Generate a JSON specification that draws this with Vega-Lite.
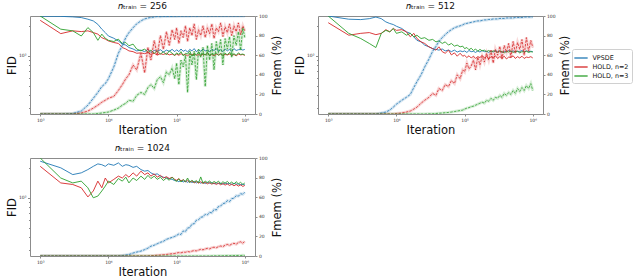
{
  "$schema": "https://vega.github.io/schema/vega-lite/v6.json",
  "background": "white",
  "padding": {"left": 5, "top": 1, "right": 2, "bottom": 2},
  "config": {
    "font": "DejaVu Sans",
    "view": {"stroke": "#8c8c8c", "strokeWidth": 1},
    "axis": {"domain": false, "grid": false, "tickColor": "#8c8c8c", "tickSize": 2, "labelFontSize": 4.5, "labelColor": "#333", "labelPadding": 1.5, "titleFontSize": 11.5, "titleFontWeight": "normal", "titleColor": "#111"},
    "title": {"fontSize": 9, "fontWeight": "normal", "color": "#111", "offset": 2, "frame": "group"}
  },
  "data": {"values": [
{"n":"256","s":"VPSDE","x":1000,"f":250,"m":0},{"n":"256","s":"VPSDE","x":2000,"f":249,"m":0},{"n":"256","s":"VPSDE","x":3000,"f":246,"m":0.5},{"n":"256","s":"VPSDE","x":4000,"f":242,"m":3},{"n":"256","s":"VPSDE","x":5000,"f":233,"m":9},{"n":"256","s":"VPSDE","x":6000,"f":224,"m":16},{"n":"256","s":"VPSDE","x":7000,"f":207,"m":22},{"n":"256","s":"VPSDE","x":8000,"f":185,"m":28},{"n":"256","s":"VPSDE","x":9000,"f":171,"m":31},
{"n":"256","s":"VPSDE","x":10000,"f":158,"m":36},{"n":"256","s":"VPSDE","x":12000,"f":150,"m":48},{"n":"256","s":"VPSDE","x":14000,"f":141,"m":62},{"n":"256","s":"VPSDE","x":16000,"f":131,"m":70},{"n":"256","s":"VPSDE","x":18000,"f":128,"m":78},{"n":"256","s":"VPSDE","x":20000,"f":121,"m":83},{"n":"256","s":"VPSDE","x":23000,"f":117,"m":88},{"n":"256","s":"VPSDE","x":26000,"f":112,"m":92},{"n":"256","s":"VPSDE","x":30000,"f":114,"m":95},{"n":"256","s":"VPSDE","x":34000,"f":110,"m":97},
{"n":"256","s":"VPSDE","x":38000,"f":116,"m":98},{"n":"256","s":"VPSDE","x":42000,"f":108,"m":98.5},{"n":"256","s":"VPSDE","x":47000,"f":113,"m":99},{"n":"256","s":"VPSDE","x":52000,"f":111,"m":99.5},{"n":"256","s":"VPSDE","x":58000,"f":115,"m":99.3},{"n":"256","s":"VPSDE","x":64000,"f":109,"m":99.6},{"n":"256","s":"VPSDE","x":71000,"f":114,"m":99.4},{"n":"256","s":"VPSDE","x":78000,"f":111,"m":99.7},{"n":"256","s":"VPSDE","x":86000,"f":116,"m":99.5},{"n":"256","s":"VPSDE","x":94000,"f":110,"m":99.8},
{"n":"256","s":"VPSDE","x":100000,"f":115,"m":99.6},{"n":"256","s":"VPSDE","x":108000,"f":110,"m":99.8},{"n":"256","s":"VPSDE","x":116000,"f":117,"m":99.7},{"n":"256","s":"VPSDE","x":125000,"f":111,"m":99.9},{"n":"256","s":"VPSDE","x":135000,"f":114,"m":99.8},{"n":"256","s":"VPSDE","x":145000,"f":109,"m":99.9},{"n":"256","s":"VPSDE","x":156000,"f":116,"m":99.7},{"n":"256","s":"VPSDE","x":168000,"f":112,"m":99.9},{"n":"256","s":"VPSDE","x":181000,"f":118,"m":100},{"n":"256","s":"VPSDE","x":195000,"f":110,"m":99.8},
{"n":"256","s":"VPSDE","x":210000,"f":115,"m":99.9},{"n":"256","s":"VPSDE","x":226000,"f":111,"m":100},{"n":"256","s":"VPSDE","x":244000,"f":117,"m":99.9},{"n":"256","s":"VPSDE","x":263000,"f":112,"m":100},{"n":"256","s":"VPSDE","x":283000,"f":114,"m":99.8},{"n":"256","s":"VPSDE","x":305000,"f":110,"m":100},{"n":"256","s":"VPSDE","x":329000,"f":116,"m":99.9},{"n":"256","s":"VPSDE","x":354000,"f":113,"m":100},{"n":"256","s":"VPSDE","x":382000,"f":118,"m":100},{"n":"256","s":"VPSDE","x":411000,"f":111,"m":99.9},
{"n":"256","s":"VPSDE","x":443000,"f":115,"m":100},{"n":"256","s":"VPSDE","x":478000,"f":110,"m":100},{"n":"256","s":"VPSDE","x":515000,"f":117,"m":99.9},{"n":"256","s":"VPSDE","x":555000,"f":112,"m":100},{"n":"256","s":"VPSDE","x":598000,"f":116,"m":100},{"n":"256","s":"VPSDE","x":644000,"f":111,"m":100},{"n":"256","s":"VPSDE","x":694000,"f":118,"m":99.9},{"n":"256","s":"VPSDE","x":748000,"f":113,"m":100},{"n":"256","s":"VPSDE","x":806000,"f":115,"m":100},{"n":"256","s":"VPSDE","x":869000,"f":117,"m":100},{"n":"256","s":"VPSDE","x":936000,"f":114,"m":100},{"n":"256","s":"VPSDE","x":1000000,"f":116,"m":100},
{"n":"256","s":"HOLD, n=2","x":1000,"f":227,"m":0},{"n":"256","s":"HOLD, n=2","x":2000,"f":167,"m":0},{"n":"256","s":"HOLD, n=2","x":3000,"f":178,"m":0},{"n":"256","s":"HOLD, n=2","x":4000,"f":175,"m":1},{"n":"256","s":"HOLD, n=2","x":5000,"f":178,"m":3},{"n":"256","s":"HOLD, n=2","x":6000,"f":171,"m":6},{"n":"256","s":"HOLD, n=2","x":7000,"f":165,"m":9},{"n":"256","s":"HOLD, n=2","x":8000,"f":152,"m":12},{"n":"256","s":"HOLD, n=2","x":9000,"f":147,"m":14},
{"n":"256","s":"HOLD, n=2","x":10000,"f":141,"m":16},{"n":"256","s":"HOLD, n=2","x":12000,"f":136,"m":18},{"n":"256","s":"HOLD, n=2","x":14000,"f":133,"m":24},{"n":"256","s":"HOLD, n=2","x":16000,"f":121,"m":30},{"n":"256","s":"HOLD, n=2","x":18000,"f":117,"m":36},{"n":"256","s":"HOLD, n=2","x":20000,"f":112,"m":40},{"n":"256","s":"HOLD, n=2","x":23000,"f":110,"m":50},{"n":"256","s":"HOLD, n=2","x":26000,"f":106,"m":45},{"n":"256","s":"HOLD, n=2","x":30000,"f":107,"m":62},{"n":"256","s":"HOLD, n=2","x":34000,"f":105,"m":42},
{"n":"256","s":"HOLD, n=2","x":38000,"f":108,"m":68},{"n":"256","s":"HOLD, n=2","x":42000,"f":103,"m":55},{"n":"256","s":"HOLD, n=2","x":47000,"f":106,"m":75},{"n":"256","s":"HOLD, n=2","x":52000,"f":102,"m":60},{"n":"256","s":"HOLD, n=2","x":58000,"f":105,"m":80},{"n":"256","s":"HOLD, n=2","x":64000,"f":103,"m":66},{"n":"256","s":"HOLD, n=2","x":71000,"f":106,"m":84},{"n":"256","s":"HOLD, n=2","x":78000,"f":102,"m":70},{"n":"256","s":"HOLD, n=2","x":86000,"f":104,"m":86},{"n":"256","s":"HOLD, n=2","x":94000,"f":101,"m":76},
{"n":"256","s":"HOLD, n=2","x":100000,"f":104,"m":88},{"n":"256","s":"HOLD, n=2","x":108000,"f":101,"m":72},{"n":"256","s":"HOLD, n=2","x":116000,"f":105,"m":85},{"n":"256","s":"HOLD, n=2","x":125000,"f":102,"m":78},{"n":"256","s":"HOLD, n=2","x":135000,"f":103,"m":90},{"n":"256","s":"HOLD, n=2","x":145000,"f":100,"m":74},{"n":"256","s":"HOLD, n=2","x":156000,"f":104,"m":88},{"n":"256","s":"HOLD, n=2","x":168000,"f":102,"m":80},{"n":"256","s":"HOLD, n=2","x":181000,"f":105,"m":92},{"n":"256","s":"HOLD, n=2","x":195000,"f":101,"m":76},
{"n":"256","s":"HOLD, n=2","x":210000,"f":103,"m":86},{"n":"256","s":"HOLD, n=2","x":226000,"f":100,"m":80},{"n":"256","s":"HOLD, n=2","x":244000,"f":104,"m":90},{"n":"256","s":"HOLD, n=2","x":263000,"f":102,"m":78},{"n":"256","s":"HOLD, n=2","x":283000,"f":105,"m":88},{"n":"256","s":"HOLD, n=2","x":305000,"f":101,"m":82},{"n":"256","s":"HOLD, n=2","x":329000,"f":103,"m":92},{"n":"256","s":"HOLD, n=2","x":354000,"f":100,"m":77},{"n":"256","s":"HOLD, n=2","x":382000,"f":104,"m":88},{"n":"256","s":"HOLD, n=2","x":411000,"f":102,"m":84},
{"n":"256","s":"HOLD, n=2","x":443000,"f":105,"m":93},{"n":"256","s":"HOLD, n=2","x":478000,"f":101,"m":79},{"n":"256","s":"HOLD, n=2","x":515000,"f":103,"m":89},{"n":"256","s":"HOLD, n=2","x":555000,"f":102,"m":83},{"n":"256","s":"HOLD, n=2","x":598000,"f":104,"m":92},{"n":"256","s":"HOLD, n=2","x":644000,"f":101,"m":80},{"n":"256","s":"HOLD, n=2","x":694000,"f":103,"m":90},{"n":"256","s":"HOLD, n=2","x":748000,"f":100,"m":84},{"n":"256","s":"HOLD, n=2","x":806000,"f":104,"m":93},{"n":"256","s":"HOLD, n=2","x":869000,"f":102,"m":81},{"n":"256","s":"HOLD, n=2","x":936000,"f":103,"m":90},{"n":"256","s":"HOLD, n=2","x":1000000,"f":101,"m":85},
{"n":"256","s":"HOLD, n=3","x":1000,"f":251,"m":0},{"n":"256","s":"HOLD, n=3","x":2000,"f":185,"m":0},{"n":"256","s":"HOLD, n=3","x":3000,"f":178,"m":0},{"n":"256","s":"HOLD, n=3","x":4000,"f":158,"m":0},{"n":"256","s":"HOLD, n=3","x":5000,"f":192,"m":0},{"n":"256","s":"HOLD, n=3","x":6000,"f":171,"m":0},{"n":"256","s":"HOLD, n=3","x":7000,"f":143,"m":0.5},{"n":"256","s":"HOLD, n=3","x":8000,"f":165,"m":1},{"n":"256","s":"HOLD, n=3","x":9000,"f":150,"m":1.5},
{"n":"256","s":"HOLD, n=3","x":10000,"f":143,"m":2},{"n":"256","s":"HOLD, n=3","x":12000,"f":139,"m":4},{"n":"256","s":"HOLD, n=3","x":14000,"f":147,"m":6},{"n":"256","s":"HOLD, n=3","x":16000,"f":133,"m":9},{"n":"256","s":"HOLD, n=3","x":18000,"f":136,"m":11},{"n":"256","s":"HOLD, n=3","x":20000,"f":126,"m":14},{"n":"256","s":"HOLD, n=3","x":23000,"f":131,"m":13},{"n":"256","s":"HOLD, n=3","x":26000,"f":117,"m":19},{"n":"256","s":"HOLD, n=3","x":30000,"f":112,"m":22},{"n":"256","s":"HOLD, n=3","x":34000,"f":117,"m":20},
{"n":"256","s":"HOLD, n=3","x":38000,"f":108,"m":27},{"n":"256","s":"HOLD, n=3","x":42000,"f":114,"m":30},{"n":"256","s":"HOLD, n=3","x":47000,"f":106,"m":26},{"n":"256","s":"HOLD, n=3","x":52000,"f":112,"m":35},{"n":"256","s":"HOLD, n=3","x":58000,"f":104,"m":38},{"n":"256","s":"HOLD, n=3","x":64000,"f":110,"m":32},{"n":"256","s":"HOLD, n=3","x":71000,"f":102,"m":43},{"n":"256","s":"HOLD, n=3","x":78000,"f":112,"m":40},{"n":"256","s":"HOLD, n=3","x":86000,"f":106,"m":47},{"n":"256","s":"HOLD, n=3","x":94000,"f":101,"m":36},
{"n":"256","s":"HOLD, n=3","x":100000,"f":107,"m":52},{"n":"256","s":"HOLD, n=3","x":108000,"f":103,"m":30},{"n":"256","s":"HOLD, n=3","x":116000,"f":110,"m":55},{"n":"256","s":"HOLD, n=3","x":125000,"f":100,"m":48},{"n":"256","s":"HOLD, n=3","x":135000,"f":106,"m":60},{"n":"256","s":"HOLD, n=3","x":145000,"f":104,"m":22},{"n":"256","s":"HOLD, n=3","x":156000,"f":112,"m":62},{"n":"256","s":"HOLD, n=3","x":168000,"f":99,"m":50},{"n":"256","s":"HOLD, n=3","x":181000,"f":105,"m":64},{"n":"256","s":"HOLD, n=3","x":195000,"f":103,"m":35},
{"n":"256","s":"HOLD, n=3","x":210000,"f":108,"m":66},{"n":"256","s":"HOLD, n=3","x":226000,"f":101,"m":58},{"n":"256","s":"HOLD, n=3","x":244000,"f":106,"m":68},{"n":"256","s":"HOLD, n=3","x":263000,"f":102,"m":28},{"n":"256","s":"HOLD, n=3","x":283000,"f":109,"m":70},{"n":"256","s":"HOLD, n=3","x":305000,"f":100,"m":55},{"n":"256","s":"HOLD, n=3","x":329000,"f":105,"m":72},{"n":"256","s":"HOLD, n=3","x":354000,"f":103,"m":45},{"n":"256","s":"HOLD, n=3","x":382000,"f":107,"m":74},{"n":"256","s":"HOLD, n=3","x":411000,"f":101,"m":62},
{"n":"256","s":"HOLD, n=3","x":443000,"f":104,"m":76},{"n":"256","s":"HOLD, n=3","x":478000,"f":99,"m":50},{"n":"256","s":"HOLD, n=3","x":515000,"f":106,"m":77},{"n":"256","s":"HOLD, n=3","x":555000,"f":102,"m":66},{"n":"256","s":"HOLD, n=3","x":598000,"f":108,"m":79},{"n":"256","s":"HOLD, n=3","x":644000,"f":100,"m":58},{"n":"256","s":"HOLD, n=3","x":694000,"f":105,"m":80},{"n":"256","s":"HOLD, n=3","x":748000,"f":101,"m":70},{"n":"256","s":"HOLD, n=3","x":806000,"f":107,"m":84},{"n":"256","s":"HOLD, n=3","x":869000,"f":103,"m":65},{"n":"256","s":"HOLD, n=3","x":936000,"f":104,"m":88},{"n":"256","s":"HOLD, n=3","x":1000000,"f":102,"m":78},

{"n":"512","s":"VPSDE","x":1000,"f":251,"m":0},{"n":"512","s":"VPSDE","x":2000,"f":233,"m":0},{"n":"512","s":"VPSDE","x":3000,"f":231,"m":0},{"n":"512","s":"VPSDE","x":4000,"f":236,"m":0},{"n":"512","s":"VPSDE","x":5000,"f":245,"m":0},{"n":"512","s":"VPSDE","x":6000,"f":236,"m":1},{"n":"512","s":"VPSDE","x":7000,"f":219,"m":2},{"n":"512","s":"VPSDE","x":8000,"f":211,"m":4},{"n":"512","s":"VPSDE","x":9000,"f":206,"m":7},
{"n":"512","s":"VPSDE","x":10000,"f":198,"m":10},{"n":"512","s":"VPSDE","x":12000,"f":188,"m":14},{"n":"512","s":"VPSDE","x":14000,"f":174,"m":17},{"n":"512","s":"VPSDE","x":16000,"f":168,"m":20},{"n":"512","s":"VPSDE","x":18000,"f":155,"m":27},{"n":"512","s":"VPSDE","x":20000,"f":143,"m":33},{"n":"512","s":"VPSDE","x":23000,"f":138,"m":40},{"n":"512","s":"VPSDE","x":26000,"f":128,"m":48},{"n":"512","s":"VPSDE","x":30000,"f":123,"m":56},{"n":"512","s":"VPSDE","x":34000,"f":118,"m":64},
{"n":"512","s":"VPSDE","x":38000,"f":116,"m":69},{"n":"512","s":"VPSDE","x":42000,"f":114,"m":74},{"n":"512","s":"VPSDE","x":47000,"f":117,"m":78},{"n":"512","s":"VPSDE","x":52000,"f":112,"m":81},{"n":"512","s":"VPSDE","x":58000,"f":114,"m":84},{"n":"512","s":"VPSDE","x":64000,"f":110,"m":86},{"n":"512","s":"VPSDE","x":71000,"f":114,"m":88},{"n":"512","s":"VPSDE","x":78000,"f":109,"m":89},{"n":"512","s":"VPSDE","x":86000,"f":112,"m":90},{"n":"512","s":"VPSDE","x":94000,"f":110,"m":91},
{"n":"512","s":"VPSDE","x":100000,"f":112,"m":92},{"n":"512","s":"VPSDE","x":108000,"f":108,"m":92.5},{"n":"512","s":"VPSDE","x":116000,"f":113,"m":93},{"n":"512","s":"VPSDE","x":125000,"f":110,"m":93.5},{"n":"512","s":"VPSDE","x":135000,"f":111,"m":94},{"n":"512","s":"VPSDE","x":145000,"f":108,"m":94.5},{"n":"512","s":"VPSDE","x":156000,"f":112,"m":95},{"n":"512","s":"VPSDE","x":168000,"f":109,"m":95},{"n":"512","s":"VPSDE","x":181000,"f":113,"m":95.5},{"n":"512","s":"VPSDE","x":195000,"f":110,"m":96},
{"n":"512","s":"VPSDE","x":210000,"f":111,"m":96},{"n":"512","s":"VPSDE","x":226000,"f":108,"m":96.5},{"n":"512","s":"VPSDE","x":244000,"f":112,"m":96.5},{"n":"512","s":"VPSDE","x":263000,"f":109,"m":97},{"n":"512","s":"VPSDE","x":283000,"f":113,"m":97},{"n":"512","s":"VPSDE","x":305000,"f":110,"m":97},{"n":"512","s":"VPSDE","x":329000,"f":112,"m":97.5},{"n":"512","s":"VPSDE","x":354000,"f":108,"m":97.5},{"n":"512","s":"VPSDE","x":382000,"f":111,"m":97.5},{"n":"512","s":"VPSDE","x":411000,"f":109,"m":98},
{"n":"512","s":"VPSDE","x":443000,"f":113,"m":98},{"n":"512","s":"VPSDE","x":478000,"f":110,"m":98},{"n":"512","s":"VPSDE","x":515000,"f":112,"m":98},{"n":"512","s":"VPSDE","x":555000,"f":109,"m":98.5},{"n":"512","s":"VPSDE","x":598000,"f":111,"m":98.5},{"n":"512","s":"VPSDE","x":644000,"f":110,"m":98.5},{"n":"512","s":"VPSDE","x":694000,"f":113,"m":98.5},{"n":"512","s":"VPSDE","x":748000,"f":109,"m":99},{"n":"512","s":"VPSDE","x":806000,"f":112,"m":99},{"n":"512","s":"VPSDE","x":869000,"f":110,"m":99},{"n":"512","s":"VPSDE","x":936000,"f":111,"m":99},{"n":"512","s":"VPSDE","x":1000000,"f":110,"m":99},
{"n":"512","s":"HOLD, n=2","x":1000,"f":215,"m":0},{"n":"512","s":"HOLD, n=2","x":2000,"f":161,"m":0},{"n":"512","s":"HOLD, n=2","x":3000,"f":168,"m":0},{"n":"512","s":"HOLD, n=2","x":4000,"f":171,"m":0},{"n":"512","s":"HOLD, n=2","x":5000,"f":163,"m":0},{"n":"512","s":"HOLD, n=2","x":6000,"f":168,"m":0},{"n":"512","s":"HOLD, n=2","x":7000,"f":183,"m":0},{"n":"512","s":"HOLD, n=2","x":8000,"f":174,"m":0},{"n":"512","s":"HOLD, n=2","x":9000,"f":188,"m":0},
{"n":"512","s":"HOLD, n=2","x":10000,"f":180,"m":0.5},{"n":"512","s":"HOLD, n=2","x":12000,"f":183,"m":1},{"n":"512","s":"HOLD, n=2","x":14000,"f":174,"m":2},{"n":"512","s":"HOLD, n=2","x":16000,"f":155,"m":3},{"n":"512","s":"HOLD, n=2","x":18000,"f":168,"m":5},{"n":"512","s":"HOLD, n=2","x":20000,"f":149,"m":7},{"n":"512","s":"HOLD, n=2","x":23000,"f":138,"m":11},{"n":"512","s":"HOLD, n=2","x":26000,"f":133,"m":14},{"n":"512","s":"HOLD, n=2","x":30000,"f":123,"m":17},{"n":"512","s":"HOLD, n=2","x":34000,"f":118,"m":21},
{"n":"512","s":"HOLD, n=2","x":38000,"f":114,"m":19},{"n":"512","s":"HOLD, n=2","x":42000,"f":123,"m":26},{"n":"512","s":"HOLD, n=2","x":47000,"f":110,"m":24},{"n":"512","s":"HOLD, n=2","x":52000,"f":106,"m":30},{"n":"512","s":"HOLD, n=2","x":58000,"f":114,"m":28},{"n":"512","s":"HOLD, n=2","x":64000,"f":102,"m":34},{"n":"512","s":"HOLD, n=2","x":71000,"f":107,"m":31},{"n":"512","s":"HOLD, n=2","x":78000,"f":99,"m":40},{"n":"512","s":"HOLD, n=2","x":86000,"f":106,"m":36},{"n":"512","s":"HOLD, n=2","x":94000,"f":99,"m":45},
{"n":"512","s":"HOLD, n=2","x":100000,"f":101,"m":43},{"n":"512","s":"HOLD, n=2","x":108000,"f":96,"m":52},{"n":"512","s":"HOLD, n=2","x":116000,"f":100,"m":46},{"n":"512","s":"HOLD, n=2","x":125000,"f":95,"m":49},{"n":"512","s":"HOLD, n=2","x":135000,"f":99,"m":55},{"n":"512","s":"HOLD, n=2","x":145000,"f":94,"m":45},{"n":"512","s":"HOLD, n=2","x":156000,"f":98,"m":58},{"n":"512","s":"HOLD, n=2","x":168000,"f":96,"m":50},{"n":"512","s":"HOLD, n=2","x":181000,"f":101,"m":59},{"n":"512","s":"HOLD, n=2","x":195000,"f":95,"m":53},
{"n":"512","s":"HOLD, n=2","x":210000,"f":99,"m":62},{"n":"512","s":"HOLD, n=2","x":226000,"f":93,"m":55},{"n":"512","s":"HOLD, n=2","x":244000,"f":98,"m":65},{"n":"512","s":"HOLD, n=2","x":263000,"f":96,"m":52},{"n":"512","s":"HOLD, n=2","x":283000,"f":100,"m":66},{"n":"512","s":"HOLD, n=2","x":305000,"f":94,"m":60},{"n":"512","s":"HOLD, n=2","x":329000,"f":98,"m":69},{"n":"512","s":"HOLD, n=2","x":354000,"f":95,"m":56},{"n":"512","s":"HOLD, n=2","x":382000,"f":99,"m":70},{"n":"512","s":"HOLD, n=2","x":411000,"f":93,"m":63},
{"n":"512","s":"HOLD, n=2","x":443000,"f":97,"m":72},{"n":"512","s":"HOLD, n=2","x":478000,"f":96,"m":58},{"n":"512","s":"HOLD, n=2","x":515000,"f":100,"m":74},{"n":"512","s":"HOLD, n=2","x":555000,"f":94,"m":62},{"n":"512","s":"HOLD, n=2","x":598000,"f":98,"m":73},{"n":"512","s":"HOLD, n=2","x":644000,"f":95,"m":66},{"n":"512","s":"HOLD, n=2","x":694000,"f":99,"m":76},{"n":"512","s":"HOLD, n=2","x":748000,"f":94,"m":60},{"n":"512","s":"HOLD, n=2","x":806000,"f":97,"m":78},{"n":"512","s":"HOLD, n=2","x":869000,"f":96,"m":64},{"n":"512","s":"HOLD, n=2","x":936000,"f":98,"m":75},{"n":"512","s":"HOLD, n=2","x":1000000,"f":95,"m":68},
{"n":"512","s":"HOLD, n=3","x":1000,"f":251,"m":0},{"n":"512","s":"HOLD, n=3","x":2000,"f":168,"m":0},{"n":"512","s":"HOLD, n=3","x":3000,"f":149,"m":0},{"n":"512","s":"HOLD, n=3","x":4000,"f":133,"m":0},{"n":"512","s":"HOLD, n=3","x":5000,"f":121,"m":0},{"n":"512","s":"HOLD, n=3","x":6000,"f":168,"m":0},{"n":"512","s":"HOLD, n=3","x":7000,"f":180,"m":0},{"n":"512","s":"HOLD, n=3","x":8000,"f":174,"m":0},{"n":"512","s":"HOLD, n=3","x":9000,"f":188,"m":0},
{"n":"512","s":"HOLD, n=3","x":10000,"f":168,"m":0},{"n":"512","s":"HOLD, n=3","x":12000,"f":174,"m":0},{"n":"512","s":"HOLD, n=3","x":14000,"f":161,"m":0},{"n":"512","s":"HOLD, n=3","x":16000,"f":168,"m":0},{"n":"512","s":"HOLD, n=3","x":18000,"f":155,"m":0},{"n":"512","s":"HOLD, n=3","x":20000,"f":161,"m":0},{"n":"512","s":"HOLD, n=3","x":23000,"f":149,"m":0},{"n":"512","s":"HOLD, n=3","x":26000,"f":152,"m":0},{"n":"512","s":"HOLD, n=3","x":30000,"f":143,"m":0.2},{"n":"512","s":"HOLD, n=3","x":34000,"f":146,"m":0.3},
{"n":"512","s":"HOLD, n=3","x":38000,"f":138,"m":0.5},{"n":"512","s":"HOLD, n=3","x":42000,"f":141,"m":0.8},{"n":"512","s":"HOLD, n=3","x":47000,"f":133,"m":1},{"n":"512","s":"HOLD, n=3","x":52000,"f":138,"m":1.3},{"n":"512","s":"HOLD, n=3","x":58000,"f":128,"m":1.6},{"n":"512","s":"HOLD, n=3","x":64000,"f":133,"m":2},{"n":"512","s":"HOLD, n=3","x":71000,"f":125,"m":2.5},{"n":"512","s":"HOLD, n=3","x":78000,"f":128,"m":3},{"n":"512","s":"HOLD, n=3","x":86000,"f":123,"m":3.5},{"n":"512","s":"HOLD, n=3","x":94000,"f":125,"m":4},
{"n":"512","s":"HOLD, n=3","x":100000,"f":118,"m":5},{"n":"512","s":"HOLD, n=3","x":108000,"f":121,"m":6},{"n":"512","s":"HOLD, n=3","x":116000,"f":115,"m":6.5},{"n":"512","s":"HOLD, n=3","x":125000,"f":119,"m":7.5},{"n":"512","s":"HOLD, n=3","x":135000,"f":113,"m":8},{"n":"512","s":"HOLD, n=3","x":145000,"f":117,"m":9},{"n":"512","s":"HOLD, n=3","x":156000,"f":111,"m":10},{"n":"512","s":"HOLD, n=3","x":168000,"f":116,"m":11},{"n":"512","s":"HOLD, n=3","x":181000,"f":112,"m":12},{"n":"512","s":"HOLD, n=3","x":195000,"f":114,"m":11},
{"n":"512","s":"HOLD, n=3","x":210000,"f":110,"m":14},{"n":"512","s":"HOLD, n=3","x":226000,"f":113,"m":13},{"n":"512","s":"HOLD, n=3","x":244000,"f":109,"m":16},{"n":"512","s":"HOLD, n=3","x":263000,"f":112,"m":14},{"n":"512","s":"HOLD, n=3","x":283000,"f":111,"m":17},{"n":"512","s":"HOLD, n=3","x":305000,"f":108,"m":16},{"n":"512","s":"HOLD, n=3","x":329000,"f":112,"m":19},{"n":"512","s":"HOLD, n=3","x":354000,"f":110,"m":17},{"n":"512","s":"HOLD, n=3","x":382000,"f":107,"m":21},{"n":"512","s":"HOLD, n=3","x":411000,"f":111,"m":19},
{"n":"512","s":"HOLD, n=3","x":443000,"f":109,"m":22},{"n":"512","s":"HOLD, n=3","x":478000,"f":112,"m":20},{"n":"512","s":"HOLD, n=3","x":515000,"f":108,"m":24},{"n":"512","s":"HOLD, n=3","x":555000,"f":110,"m":21},{"n":"512","s":"HOLD, n=3","x":598000,"f":111,"m":26},{"n":"512","s":"HOLD, n=3","x":644000,"f":107,"m":23},{"n":"512","s":"HOLD, n=3","x":694000,"f":110,"m":27},{"n":"512","s":"HOLD, n=3","x":748000,"f":109,"m":24},{"n":"512","s":"HOLD, n=3","x":806000,"f":111,"m":29},{"n":"512","s":"HOLD, n=3","x":869000,"f":108,"m":26},{"n":"512","s":"HOLD, n=3","x":936000,"f":110,"m":31},{"n":"512","s":"HOLD, n=3","x":1000000,"f":109,"m":24},

{"n":"1024","s":"VPSDE","x":1000,"f":233,"m":0},{"n":"1024","s":"VPSDE","x":2000,"f":200,"m":0},{"n":"1024","s":"VPSDE","x":3000,"f":171,"m":0},{"n":"1024","s":"VPSDE","x":4000,"f":178,"m":0},{"n":"1024","s":"VPSDE","x":5000,"f":192,"m":0},{"n":"1024","s":"VPSDE","x":6000,"f":207,"m":0},{"n":"1024","s":"VPSDE","x":7000,"f":219,"m":0},{"n":"1024","s":"VPSDE","x":8000,"f":215,"m":0},{"n":"1024","s":"VPSDE","x":9000,"f":207,"m":0},
{"n":"1024","s":"VPSDE","x":10000,"f":219,"m":0},{"n":"1024","s":"VPSDE","x":12000,"f":212,"m":0},{"n":"1024","s":"VPSDE","x":14000,"f":224,"m":0},{"n":"1024","s":"VPSDE","x":16000,"f":207,"m":0.5},{"n":"1024","s":"VPSDE","x":18000,"f":215,"m":1},{"n":"1024","s":"VPSDE","x":20000,"f":212,"m":1.5},{"n":"1024","s":"VPSDE","x":23000,"f":202,"m":3},{"n":"1024","s":"VPSDE","x":26000,"f":207,"m":4},{"n":"1024","s":"VPSDE","x":30000,"f":192,"m":5},{"n":"1024","s":"VPSDE","x":34000,"f":185,"m":6.5},
{"n":"1024","s":"VPSDE","x":38000,"f":188,"m":8},{"n":"1024","s":"VPSDE","x":42000,"f":178,"m":10},{"n":"1024","s":"VPSDE","x":47000,"f":171,"m":11},{"n":"1024","s":"VPSDE","x":52000,"f":174,"m":12.5},{"n":"1024","s":"VPSDE","x":58000,"f":165,"m":14},{"n":"1024","s":"VPSDE","x":64000,"f":161,"m":15},{"n":"1024","s":"VPSDE","x":71000,"f":158,"m":17},{"n":"1024","s":"VPSDE","x":78000,"f":156,"m":18},{"n":"1024","s":"VPSDE","x":86000,"f":153,"m":19},{"n":"1024","s":"VPSDE","x":94000,"f":149,"m":20},
{"n":"1024","s":"VPSDE","x":100000,"f":149,"m":21},{"n":"1024","s":"VPSDE","x":108000,"f":145,"m":22.5},{"n":"1024","s":"VPSDE","x":116000,"f":150,"m":22},{"n":"1024","s":"VPSDE","x":125000,"f":144,"m":25.5},{"n":"1024","s":"VPSDE","x":135000,"f":147,"m":25},{"n":"1024","s":"VPSDE","x":145000,"f":143,"m":28.5},{"n":"1024","s":"VPSDE","x":156000,"f":148,"m":29},{"n":"1024","s":"VPSDE","x":168000,"f":142,"m":32.5},{"n":"1024","s":"VPSDE","x":181000,"f":146,"m":33},{"n":"1024","s":"VPSDE","x":195000,"f":141,"m":36.5},
{"n":"1024","s":"VPSDE","x":210000,"f":145,"m":37},{"n":"1024","s":"VPSDE","x":226000,"f":140,"m":39.5},{"n":"1024","s":"VPSDE","x":244000,"f":144,"m":40},{"n":"1024","s":"VPSDE","x":263000,"f":139,"m":42.5},{"n":"1024","s":"VPSDE","x":283000,"f":143,"m":42},{"n":"1024","s":"VPSDE","x":305000,"f":140,"m":44.5},{"n":"1024","s":"VPSDE","x":329000,"f":142,"m":44},{"n":"1024","s":"VPSDE","x":354000,"f":138,"m":47.5},{"n":"1024","s":"VPSDE","x":382000,"f":141,"m":47},{"n":"1024","s":"VPSDE","x":411000,"f":139,"m":50.5},
{"n":"1024","s":"VPSDE","x":443000,"f":140,"m":51},{"n":"1024","s":"VPSDE","x":478000,"f":137,"m":53.5},{"n":"1024","s":"VPSDE","x":515000,"f":141,"m":54},{"n":"1024","s":"VPSDE","x":555000,"f":138,"m":56.5},{"n":"1024","s":"VPSDE","x":598000,"f":139,"m":55.5},{"n":"1024","s":"VPSDE","x":644000,"f":136,"m":58.5},{"n":"1024","s":"VPSDE","x":694000,"f":140,"m":59},{"n":"1024","s":"VPSDE","x":748000,"f":137,"m":61.5},{"n":"1024","s":"VPSDE","x":806000,"f":138,"m":61},{"n":"1024","s":"VPSDE","x":869000,"f":135,"m":63.5},{"n":"1024","s":"VPSDE","x":936000,"f":137,"m":63},{"n":"1024","s":"VPSDE","x":1000000,"f":135,"m":65},
{"n":"1024","s":"HOLD, n=2","x":1000,"f":207,"m":0},{"n":"1024","s":"HOLD, n=2","x":2000,"f":141,"m":0},{"n":"1024","s":"HOLD, n=2","x":3000,"f":136,"m":0},{"n":"1024","s":"HOLD, n=2","x":4000,"f":126,"m":0},{"n":"1024","s":"HOLD, n=2","x":5000,"f":102,"m":0},{"n":"1024","s":"HOLD, n=2","x":6000,"f":117,"m":0},{"n":"1024","s":"HOLD, n=2","x":7000,"f":147,"m":0},{"n":"1024","s":"HOLD, n=2","x":8000,"f":126,"m":0},{"n":"1024","s":"HOLD, n=2","x":9000,"f":158,"m":0},
{"n":"1024","s":"HOLD, n=2","x":10000,"f":141,"m":0},{"n":"1024","s":"HOLD, n=2","x":12000,"f":153,"m":0},{"n":"1024","s":"HOLD, n=2","x":14000,"f":165,"m":0},{"n":"1024","s":"HOLD, n=2","x":16000,"f":158,"m":0},{"n":"1024","s":"HOLD, n=2","x":18000,"f":171,"m":0},{"n":"1024","s":"HOLD, n=2","x":20000,"f":161,"m":0},{"n":"1024","s":"HOLD, n=2","x":23000,"f":178,"m":0},{"n":"1024","s":"HOLD, n=2","x":26000,"f":165,"m":0},{"n":"1024","s":"HOLD, n=2","x":30000,"f":185,"m":0},{"n":"1024","s":"HOLD, n=2","x":34000,"f":171,"m":0},
{"n":"1024","s":"HOLD, n=2","x":38000,"f":178,"m":0},{"n":"1024","s":"HOLD, n=2","x":42000,"f":165,"m":0.3},{"n":"1024","s":"HOLD, n=2","x":47000,"f":174,"m":0.5},{"n":"1024","s":"HOLD, n=2","x":52000,"f":161,"m":0.8},{"n":"1024","s":"HOLD, n=2","x":58000,"f":168,"m":1},{"n":"1024","s":"HOLD, n=2","x":64000,"f":158,"m":1.3},{"n":"1024","s":"HOLD, n=2","x":71000,"f":163,"m":1.6},{"n":"1024","s":"HOLD, n=2","x":78000,"f":156,"m":2},{"n":"1024","s":"HOLD, n=2","x":86000,"f":161,"m":2.3},{"n":"1024","s":"HOLD, n=2","x":94000,"f":153,"m":2.6},
{"n":"1024","s":"HOLD, n=2","x":100000,"f":150,"m":3},{"n":"1024","s":"HOLD, n=2","x":108000,"f":156,"m":3.5},{"n":"1024","s":"HOLD, n=2","x":116000,"f":147,"m":3.2},{"n":"1024","s":"HOLD, n=2","x":125000,"f":152,"m":4},{"n":"1024","s":"HOLD, n=2","x":135000,"f":145,"m":3.8},{"n":"1024","s":"HOLD, n=2","x":145000,"f":150,"m":4.5},{"n":"1024","s":"HOLD, n=2","x":156000,"f":143,"m":4.2},{"n":"1024","s":"HOLD, n=2","x":168000,"f":148,"m":5},{"n":"1024","s":"HOLD, n=2","x":181000,"f":141,"m":5.5},{"n":"1024","s":"HOLD, n=2","x":195000,"f":146,"m":5.2},
{"n":"1024","s":"HOLD, n=2","x":210000,"f":140,"m":6},{"n":"1024","s":"HOLD, n=2","x":226000,"f":145,"m":6.8},{"n":"1024","s":"HOLD, n=2","x":244000,"f":139,"m":6.3},{"n":"1024","s":"HOLD, n=2","x":263000,"f":143,"m":7.2},{"n":"1024","s":"HOLD, n=2","x":283000,"f":138,"m":7.8},{"n":"1024","s":"HOLD, n=2","x":305000,"f":142,"m":7.3},{"n":"1024","s":"HOLD, n=2","x":329000,"f":137,"m":8.5},{"n":"1024","s":"HOLD, n=2","x":354000,"f":141,"m":9},{"n":"1024","s":"HOLD, n=2","x":382000,"f":136,"m":8.4},{"n":"1024","s":"HOLD, n=2","x":411000,"f":140,"m":9.5},
{"n":"1024","s":"HOLD, n=2","x":443000,"f":135,"m":10.2},{"n":"1024","s":"HOLD, n=2","x":478000,"f":139,"m":9.6},{"n":"1024","s":"HOLD, n=2","x":515000,"f":134,"m":11},{"n":"1024","s":"HOLD, n=2","x":555000,"f":138,"m":11.8},{"n":"1024","s":"HOLD, n=2","x":598000,"f":133,"m":10.8},{"n":"1024","s":"HOLD, n=2","x":644000,"f":137,"m":12.2},{"n":"1024","s":"HOLD, n=2","x":694000,"f":132,"m":13},{"n":"1024","s":"HOLD, n=2","x":748000,"f":136,"m":12},{"n":"1024","s":"HOLD, n=2","x":806000,"f":131,"m":13.8},{"n":"1024","s":"HOLD, n=2","x":869000,"f":135,"m":14.5},{"n":"1024","s":"HOLD, n=2","x":936000,"f":130,"m":13},{"n":"1024","s":"HOLD, n=2","x":1000000,"f":133,"m":15},
{"n":"1024","s":"HOLD, n=3","x":1000,"f":251,"m":0},{"n":"1024","s":"HOLD, n=3","x":2000,"f":158,"m":0},{"n":"1024","s":"HOLD, n=3","x":3000,"f":141,"m":0},{"n":"1024","s":"HOLD, n=3","x":4000,"f":147,"m":0},{"n":"1024","s":"HOLD, n=3","x":5000,"f":126,"m":0},{"n":"1024","s":"HOLD, n=3","x":6000,"f":100,"m":0},{"n":"1024","s":"HOLD, n=3","x":7000,"f":104,"m":0},{"n":"1024","s":"HOLD, n=3","x":8000,"f":117,"m":0},{"n":"1024","s":"HOLD, n=3","x":9000,"f":131,"m":0},
{"n":"1024","s":"HOLD, n=3","x":10000,"f":147,"m":0},{"n":"1024","s":"HOLD, n=3","x":12000,"f":136,"m":0},{"n":"1024","s":"HOLD, n=3","x":14000,"f":156,"m":0},{"n":"1024","s":"HOLD, n=3","x":16000,"f":147,"m":0},{"n":"1024","s":"HOLD, n=3","x":18000,"f":161,"m":0},{"n":"1024","s":"HOLD, n=3","x":20000,"f":141,"m":0},{"n":"1024","s":"HOLD, n=3","x":23000,"f":158,"m":0},{"n":"1024","s":"HOLD, n=3","x":26000,"f":149,"m":0},{"n":"1024","s":"HOLD, n=3","x":30000,"f":165,"m":0},{"n":"1024","s":"HOLD, n=3","x":34000,"f":153,"m":0},
{"n":"1024","s":"HOLD, n=3","x":38000,"f":168,"m":0},{"n":"1024","s":"HOLD, n=3","x":42000,"f":156,"m":0},{"n":"1024","s":"HOLD, n=3","x":47000,"f":165,"m":0},{"n":"1024","s":"HOLD, n=3","x":52000,"f":153,"m":0},{"n":"1024","s":"HOLD, n=3","x":58000,"f":161,"m":0},{"n":"1024","s":"HOLD, n=3","x":64000,"f":149,"m":0},{"n":"1024","s":"HOLD, n=3","x":71000,"f":158,"m":0},{"n":"1024","s":"HOLD, n=3","x":78000,"f":150,"m":0},{"n":"1024","s":"HOLD, n=3","x":86000,"f":161,"m":0},{"n":"1024","s":"HOLD, n=3","x":94000,"f":150,"m":0},
{"n":"1024","s":"HOLD, n=3","x":100000,"f":146,"m":0},{"n":"1024","s":"HOLD, n=3","x":108000,"f":155,"m":0},{"n":"1024","s":"HOLD, n=3","x":116000,"f":144,"m":0},{"n":"1024","s":"HOLD, n=3","x":125000,"f":152,"m":0},{"n":"1024","s":"HOLD, n=3","x":135000,"f":145,"m":0},{"n":"1024","s":"HOLD, n=3","x":145000,"f":158,"m":0},{"n":"1024","s":"HOLD, n=3","x":156000,"f":142,"m":0},{"n":"1024","s":"HOLD, n=3","x":168000,"f":150,"m":0},{"n":"1024","s":"HOLD, n=3","x":181000,"f":143,"m":0},{"n":"1024","s":"HOLD, n=3","x":195000,"f":149,"m":0},
{"n":"1024","s":"HOLD, n=3","x":210000,"f":141,"m":0},{"n":"1024","s":"HOLD, n=3","x":226000,"f":162,"m":0},{"n":"1024","s":"HOLD, n=3","x":244000,"f":140,"m":0},{"n":"1024","s":"HOLD, n=3","x":263000,"f":147,"m":0},{"n":"1024","s":"HOLD, n=3","x":283000,"f":142,"m":0},{"n":"1024","s":"HOLD, n=3","x":305000,"f":148,"m":0.1},{"n":"1024","s":"HOLD, n=3","x":329000,"f":139,"m":0.1},{"n":"1024","s":"HOLD, n=3","x":354000,"f":146,"m":0.2},{"n":"1024","s":"HOLD, n=3","x":382000,"f":141,"m":0.1},{"n":"1024","s":"HOLD, n=3","x":411000,"f":147,"m":0.2},
{"n":"1024","s":"HOLD, n=3","x":443000,"f":138,"m":0.3},{"n":"1024","s":"HOLD, n=3","x":478000,"f":145,"m":0.2},{"n":"1024","s":"HOLD, n=3","x":515000,"f":140,"m":0.3},{"n":"1024","s":"HOLD, n=3","x":555000,"f":146,"m":0.4},{"n":"1024","s":"HOLD, n=3","x":598000,"f":139,"m":0.3},{"n":"1024","s":"HOLD, n=3","x":644000,"f":144,"m":0.5},{"n":"1024","s":"HOLD, n=3","x":694000,"f":137,"m":0.4},{"n":"1024","s":"HOLD, n=3","x":748000,"f":145,"m":0.5},{"n":"1024","s":"HOLD, n=3","x":806000,"f":138,"m":0.6},{"n":"1024","s":"HOLD, n=3","x":869000,"f":143,"m":0.5},{"n":"1024","s":"HOLD, n=3","x":936000,"f":136,"m":0.7},{"n":"1024","s":"HOLD, n=3","x":1000000,"f":141,"m":0.6}
  ]},
  "columns": 2,
  "spacing": {"row": 44, "column": 63},
  "bounds": "flush",
  "concat": [
    {
      "width": 225, "height": 98,
      "title": {"text": "𝑛ₜᵣₐᵢₙ = 256"},
      "transform": [{"filter": "datum.n == '256'"}],
      "resolve": {"scale": {"y": "independent"}},
      "layer": [
        {
          "mark": {"type": "line", "strokeWidth": 0.9, "clip": true},
          "encoding": {
            "x": {"field": "x", "type": "quantitative", "scale": {"type": "log", "domain": [708, 1412500]}, "axis": {"values": [1000, 10000, 100000, 1000000], "labelExpr": "'10' + (datum.value == 1000 ? '³' : datum.value == 10000 ? '⁴' : datum.value == 100000 ? '⁵' : '⁶')", "title": "Iteration", "titlePadding": 2}},
            "y": {"field": "f", "type": "quantitative", "scale": {"type": "log", "domain": [26, 251]}, "axis": {"orient": "left", "values": [30, 40, 50, 60, 70, 80, 90, 100, 200], "labelExpr": "datum.value == 100 ? '10²' : ''", "tickSize": {"condition": {"test": "datum.value == 100", "value": 2.5}, "value": 1.5}, "title": "FID", "titlePadding": 1}},
            "color": {"field": "s", "type": "nominal", "scale": {"domain": ["VPSDE", "HOLD, n=2", "HOLD, n=3"], "range": ["#1f77b4", "#d62728", "#2ca02c"]}, "legend": {"title": null, "orient": "none", "legendX": 542, "legendY": 33, "labelFontSize": 6.4, "labelColor": "#111", "symbolType": "M-1.4,0H1.4", "symbolSize": 90, "symbolStrokeWidth": 1.3, "strokeColor": "#d0d0d0", "fillColor": "white", "padding": 3.5, "cornerRadius": 2, "rowPadding": 0, "labelOffset": 6, "encode": {"symbols": {"update": {"opacity": {"value": 1}, "strokeOpacity": {"value": 1}, "strokeDash": {"value": []}, "strokeWidth": {"value": 1.3}}}}}}
          }
        },
        {
          "encoding": {
            "x": {"field": "x", "type": "quantitative", "scale": {"type": "log", "domain": [708, 1412500]}},
            "y": {"field": "m", "type": "quantitative", "scale": {"domain": [0, 100]}, "axis": {"orient": "right", "values": [0, 20, 40, 60, 80, 100], "title": "Fmem (%)", "titleAngle": 270, "titleBaseline": "top", "titlePadding": 4}},
            "color": {"field": "s", "type": "nominal"}
          },
          "layer": [
            {"mark": {"type": "line", "strokeWidth": 3, "opacity": 0.18, "clip": true}},
            {"mark": {"type": "line", "strokeWidth": 0.8, "strokeDash": [2.5, 1.2], "clip": true}}
          ]
        }
      ]
    },
    {
      "width": 225, "height": 98,
      "title": {"text": "𝑛ₜᵣₐᵢₙ = 512"},
      "transform": [{"filter": "datum.n == '512'"}],
      "resolve": {"scale": {"y": "independent"}},
      "layer": [
        {
          "mark": {"type": "line", "strokeWidth": 0.9, "clip": true},
          "encoding": {
            "x": {"field": "x", "type": "quantitative", "scale": {"type": "log", "domain": [708, 1412500]}, "axis": {"values": [1000, 10000, 100000, 1000000], "labelExpr": "'10' + (datum.value == 1000 ? '³' : datum.value == 10000 ? '⁴' : datum.value == 100000 ? '⁵' : '⁶')", "title": "Iteration", "titlePadding": 2}},
            "y": {"field": "f", "type": "quantitative", "scale": {"type": "log", "domain": [26, 251]}, "axis": {"orient": "left", "values": [30, 40, 50, 60, 70, 80, 90, 100, 200], "labelExpr": "datum.value == 100 ? '10²' : ''", "tickSize": {"condition": {"test": "datum.value == 100", "value": 2.5}, "value": 1.5}, "title": "FID", "titlePadding": 1}},
            "color": {"field": "s", "type": "nominal"}
          }
        },
        {
          "encoding": {
            "x": {"field": "x", "type": "quantitative", "scale": {"type": "log", "domain": [708, 1412500]}},
            "y": {"field": "m", "type": "quantitative", "scale": {"domain": [0, 100]}, "axis": {"orient": "right", "values": [0, 20, 40, 60, 80, 100], "title": "Fmem (%)", "titleAngle": 270, "titleBaseline": "top", "titlePadding": 4}},
            "color": {"field": "s", "type": "nominal"}
          },
          "layer": [
            {"mark": {"type": "line", "strokeWidth": 3, "opacity": 0.18, "clip": true}},
            {"mark": {"type": "line", "strokeWidth": 0.8, "strokeDash": [2.5, 1.2], "clip": true}}
          ]
        }
      ]
    },
    {
      "width": 225, "height": 98,
      "title": {"text": "𝑛ₜᵣₐᵢₙ = 1024"},
      "transform": [{"filter": "datum.n == '1024'"}],
      "resolve": {"scale": {"y": "independent"}},
      "layer": [
        {
          "mark": {"type": "line", "strokeWidth": 0.9, "clip": true},
          "encoding": {
            "x": {"field": "x", "type": "quantitative", "scale": {"type": "log", "domain": [708, 1412500]}, "axis": {"values": [1000, 10000, 100000, 1000000], "labelExpr": "'10' + (datum.value == 1000 ? '³' : datum.value == 10000 ? '⁴' : datum.value == 100000 ? '⁵' : '⁶')", "title": "Iteration", "titlePadding": 2}},
            "y": {"field": "f", "type": "quantitative", "scale": {"type": "log", "domain": [26, 251]}, "axis": {"orient": "left", "values": [30, 40, 50, 60, 70, 80, 90, 100, 200], "labelExpr": "datum.value == 100 ? '10²' : ''", "tickSize": {"condition": {"test": "datum.value == 100", "value": 2.5}, "value": 1.5}, "title": "FID", "titlePadding": 1}},
            "color": {"field": "s", "type": "nominal"}
          }
        },
        {
          "encoding": {
            "x": {"field": "x", "type": "quantitative", "scale": {"type": "log", "domain": [708, 1412500]}},
            "y": {"field": "m", "type": "quantitative", "scale": {"domain": [0, 100]}, "axis": {"orient": "right", "values": [0, 20, 40, 60, 80, 100], "title": "Fmem (%)", "titleAngle": 270, "titleBaseline": "top", "titlePadding": 4}},
            "color": {"field": "s", "type": "nominal"}
          },
          "layer": [
            {"mark": {"type": "line", "strokeWidth": 3, "opacity": 0.18, "clip": true}},
            {"mark": {"type": "line", "strokeWidth": 0.8, "strokeDash": [2.5, 1.2], "clip": true}}
          ]
        }
      ]
    }
  ]
}
